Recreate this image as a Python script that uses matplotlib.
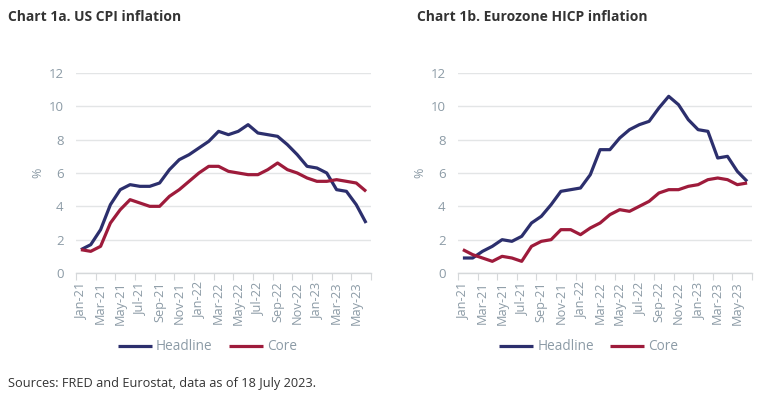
import numpy as np
import matplotlib.pyplot as plt
from matplotlib.ticker import FixedLocator, NullFormatter

months = ['Jan-21', 'Feb-21', 'Mar-21', 'Apr-21', 'May-21', 'Jun-21', 'Jul-21', 'Aug-21',
          'Sep-21', 'Oct-21', 'Nov-21', 'Dec-21', 'Jan-22', 'Feb-22', 'Mar-22', 'Apr-22',
          'May-22', 'Jun-22', 'Jul-22', 'Aug-22', 'Sep-22', 'Oct-22', 'Nov-22', 'Dec-22',
          'Jan-23', 'Feb-23', 'Mar-23', 'Apr-23', 'May-23', 'Jun-23']

us_headline = [1.4, 1.7, 2.6, 4.1, 5.0, 5.3, 5.2, 5.2, 5.4, 6.2, 6.8, 7.1,
               7.5, 7.9, 8.5, 8.3, 8.5, 8.9, 8.4, 8.3, 8.2, 7.7, 7.1, 6.4,
               6.3, 6.0, 5.0, 4.9, 4.1, 3.0]
us_core = [1.4, 1.3, 1.6, 3.0, 3.8, 4.4, 4.2, 4.0, 4.0, 4.6, 5.0, 5.5,
           6.0, 6.4, 6.4, 6.1, 6.0, 5.9, 5.9, 6.2, 6.6, 6.2, 6.0, 5.7,
           5.5, 5.5, 5.6, 5.5, 5.4, 4.9]

ez_headline = [0.9, 0.9, 1.3, 1.6, 2.0, 1.9, 2.2, 3.0, 3.4, 4.1, 4.9, 5.0,
               5.1, 5.9, 7.4, 7.4, 8.1, 8.6, 8.9, 9.1, 9.9, 10.6, 10.1, 9.2,
               8.6, 8.5, 6.9, 7.0, 6.1, 5.5]
ez_core = [1.4, 1.1, 0.9, 0.7, 1.0, 0.9, 0.7, 1.6, 1.9, 2.0, 2.6, 2.6,
           2.3, 2.7, 3.0, 3.5, 3.8, 3.7, 4.0, 4.3, 4.8, 5.0, 5.0, 5.2,
           5.3, 5.6, 5.7, 5.6, 5.3, 5.4]

titles = ['Chart 1a. US CPI inflation', 'Chart 1b. Eurozone HICP inflation']
yticks = [0, 2, 4, 6, 8, 10, 12]

navy = '#2c2f6d'
red = '#9e1b3b'
tick_col = '#8c9ba6'
grid_col = '#e3e5e6'

plt.rcParams['font.family'] = ['Open Sans', 'DejaVu Sans']

fig = plt.figure(figsize=(7.76, 3.96), dpi=100)
ax1 = fig.add_axes([76/776, 123/396, 295/776, 200/396])
ax2 = fig.add_axes([458/776, 123/396, 294/776, 200/396])

x = np.arange(len(months))
for ax, head, core in [(ax1, us_headline, us_core), (ax2, ez_headline, ez_core)]:
    ax.plot(x, head, color=navy, lw=2.3, label='Headline', solid_capstyle='butt')
    ax.plot(x, core, color=red, lw=2.3, label='Core', solid_capstyle='butt')
    ax.set_xlim(-0.5, len(months) - 0.5)
    ax.set_ylim(0, 12)
    ax.set_yticks(yticks)
    ax.grid(axis='y', color=grid_col, lw=1)
    ax.set_axisbelow(True)
    for s in ['top', 'right', 'left']:
        ax.spines[s].set_visible(False)
    ax.spines['bottom'].set_color('#d5d8da')
    ax.spines['bottom'].set_linewidth(1)
    # tick marks between category pairs, labels on every other month
    ax.xaxis.set_major_locator(FixedLocator(np.arange(-0.5, len(months), 2)))
    ax.xaxis.set_major_formatter(NullFormatter())
    ax.set_xticks(x[::2], months[::2], minor=True)
    ax.tick_params(axis='x', which='major', length=5, color='#d5d8da', direction='out')
    ax.tick_params(axis='x', which='minor', length=0, pad=6, labelsize=9.2,
                   labelcolor=tick_col, rotation=90)
    ax.tick_params(axis='y', length=0, pad=9, labelsize=9.5, labelcolor=tick_col)
    ax.set_ylabel('%', color=tick_col, fontsize=9, labelpad=3)
    ax.legend(loc='center', bbox_to_anchor=(0.445, -0.37), ncol=2, frameon=False,
              fontsize=9.8, handlelength=2.5, handletextpad=0.3, columnspacing=1.2,
              labelcolor=tick_col)

fig.text(8/776, 1 - 17/396, titles[0], fontsize=10, fontweight='bold',
         color='#333333', va='center')
fig.text(417/776, 1 - 17/396, titles[1], fontsize=10, fontweight='bold',
         color='#333333', va='center')
fig.text(8/776, 1 - 383/396, 'Sources: FRED and Eurostat, data as of 18 July 2023.',
         fontsize=9.2, color='#333333', va='center')

fig.savefig('out.png', dpi=100)
